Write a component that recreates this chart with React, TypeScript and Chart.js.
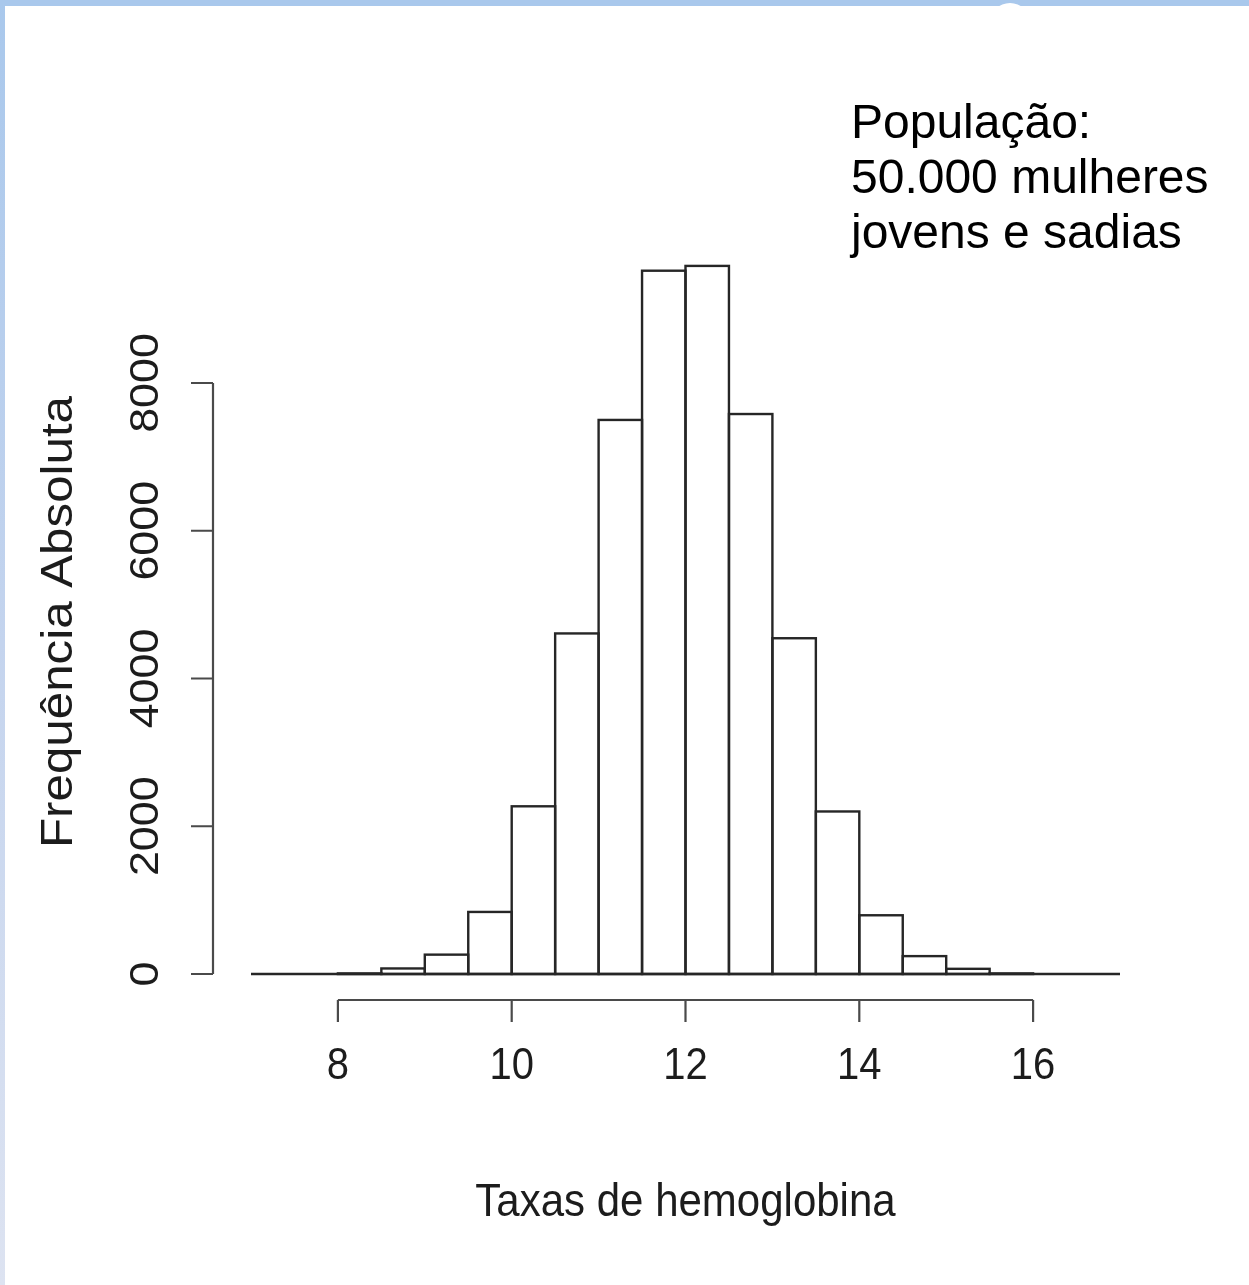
import React, { useEffect, useRef } from "react";
import { Chart, registerables } from "chart.js";

Chart.register(...registerables);

// Histogram bins (width 0.5) – centres and absolute frequencies
const binCenters = [
  7.25, 7.75, 8.25, 8.75, 9.25, 9.75, 10.25, 10.75, 11.25, 11.75,
  12.25, 12.75, 13.25, 13.75, 14.25, 14.75, 15.25, 15.75, 16.25, 16.75,
];
const frequencies = [
  0, 0, 8, 75, 262, 840, 2270, 4610, 7500, 9520,
  9585, 7580, 4545, 2200, 795, 242, 70, 8, 0, 0,
];
const histRange = [7, 17];
const xTicks = [8, 10, 12, 14, 16];
const yTicks = [0, 2000, 4000, 6000, 8000];
const xTitle = "Taxas de hemoglobina";
const yTitle = "Frequência Absoluta";
const noteLines = ["População:", "50.000 mulheres", "jovens e sadias"];

const FONT = '"Liberation Sans", Arial, Helvetica, sans-serif';
const STRETCH = 1.12;

function hText(ctx: CanvasRenderingContext2D, t: string, x: number, y: number, size: number) {
  ctx.save();
  ctx.translate(x, y);
  ctx.scale(1, STRETCH);
  ctx.font = `${size}px ${FONT}`;
  ctx.textAlign = "center";
  ctx.textBaseline = "alphabetic";
  ctx.fillText(t, 0, 0);
  ctx.restore();
}

function vText(ctx: CanvasRenderingContext2D, t: string, x: number, y: number, size: number) {
  ctx.save();
  ctx.translate(x, y);
  ctx.rotate(-Math.PI / 2);
  ctx.scale(STRETCH, 1);
  ctx.font = `${size}px ${FONT}`;
  ctx.textAlign = "center";
  ctx.textBaseline = "alphabetic";
  ctx.fillText(t, 0, 0);
  ctx.restore();
}

const rStylePlugin = {
  id: "rStyle",
  afterDatasetsDraw(chart: any) {
    const ctx: CanvasRenderingContext2D = chart.ctx;
    const xs = chart.scales.x;
    const ys = chart.scales.y;
    const meta = chart.getDatasetMeta(0);
    const y0 = ys.getPixelForValue(0);

    ctx.save();
    // bar outlines (shared edges overlap like R's rect())
    ctx.strokeStyle = "#262626";
    ctx.lineWidth = 2.4;
    ctx.lineJoin = "miter";
    meta.data.forEach((el: any) => {
      const p = el.getProps(["x", "y", "base", "width"], true);
      const h = p.base - p.y;
      if (h > 0.3) ctx.strokeRect(p.x - p.width / 2, p.y, p.width, h);
    });
    // baseline across full histogram range
    ctx.beginPath();
    ctx.moveTo(xs.getPixelForValue(histRange[0]), y0);
    ctx.lineTo(xs.getPixelForValue(histRange[1]), y0);
    ctx.stroke();

    // x axis (R style, offset below)
    const axY = y0 + 26;
    const tickLen = 22;
    ctx.strokeStyle = "#4a4a4a";
    ctx.lineWidth = 2.2;
    ctx.beginPath();
    ctx.moveTo(xs.getPixelForValue(xTicks[0]), axY);
    ctx.lineTo(xs.getPixelForValue(xTicks[xTicks.length - 1]), axY);
    xTicks.forEach((v) => {
      const px = xs.getPixelForValue(v);
      ctx.moveTo(px, axY);
      ctx.lineTo(px, axY + tickLen);
    });
    ctx.stroke();

    // y axis (R style, offset left)
    const axX = chart.chartArea.left - 38;
    ctx.beginPath();
    ctx.moveTo(axX, ys.getPixelForValue(yTicks[0]));
    ctx.lineTo(axX, ys.getPixelForValue(yTicks[yTicks.length - 1]));
    yTicks.forEach((v) => {
      const py = ys.getPixelForValue(v);
      ctx.moveTo(axX, py);
      ctx.lineTo(axX - tickLen, py);
    });
    ctx.stroke();

    // labels
    ctx.fillStyle = "#1c1c1c";
    xTicks.forEach((v) => hText(ctx, String(v), xs.getPixelForValue(v), axY + 79, 40));
    yTicks.forEach((v) => vText(ctx, String(v), axX - 55, ys.getPixelForValue(v), 40));
    const xMid = (xs.getPixelForValue(histRange[0]) + xs.getPixelForValue(histRange[1])) / 2;
    hText(ctx, xTitle, xMid, axY + 216, 42);
    vText(ctx, yTitle, 72, 622, 44);
    ctx.restore();
  },
};

export default function App() {
  const canvasRef = useRef<HTMLCanvasElement | null>(null);

  useEffect(() => {
    if (!canvasRef.current) return;
    const chart = new Chart(canvasRef.current, {
      type: "bar",
      data: {
        datasets: [
          {
            data: binCenters.map((c, i) => ({ x: c, y: frequencies[i] })),
            backgroundColor: "#ffffff",
            borderWidth: 0,
            barPercentage: 1,
            categoryPercentage: 1,
            inflateAmount: 0,
          } as any,
        ],
      },
      options: {
        animation: false,
        responsive: false,
        devicePixelRatio: 1,
        layout: { padding: { left: 251, right: 129, top: 235.25, bottom: 311 } },
        plugins: { legend: { display: false }, tooltip: { enabled: false } },
        scales: {
          x: {
            type: "linear",
            min: histRange[0],
            max: histRange[1],
            offset: false,
            display: false,
            ticks: { stepSize: 1 },
          },
          y: { type: "linear", min: 0, max: 10000, display: false },
        },
      },
      plugins: [rStylePlugin],
    });
    return () => chart.destroy();
  }, []);

  return (
    <div style={{ position: "absolute", left: 0, top: 0, width: 1249, height: 1285, background: "#fff", overflow: "hidden" }}>
      <div style={{ position: "absolute", left: 0, top: 0, width: 1249, height: 6, background: "#a9c8ec" }} />
      <div
        style={{
          position: "absolute",
          left: 0,
          top: 0,
          width: 5,
          height: 1285,
          background: "linear-gradient(to bottom, #a9c8ec 0%, #c4d4ee 50%, #dde3f1 100%)",
        }}
      />
      <div style={{ position: "absolute", left: 990, top: 3, width: 40, height: 40, borderRadius: "50%", background: "#fff" }} />
      <canvas ref={canvasRef} width={1249} height={1285} style={{ position: "absolute", left: 0, top: 0, width: 1249, height: 1285 }} />
      <div
        style={{
          position: "absolute",
          left: 851,
          top: 94,
          font: `48px ${FONT}`,
          lineHeight: "55px",
          color: "#000",
          whiteSpace: "nowrap",
        }}
      >
        {noteLines.map((l, i) => (
          <div key={i}>{l}</div>
        ))}
      </div>
    </div>
  );
}
